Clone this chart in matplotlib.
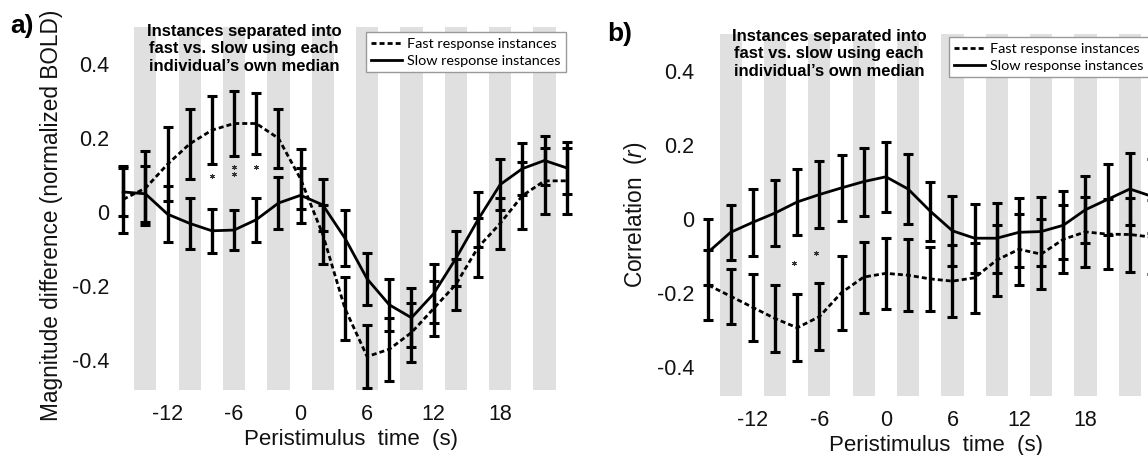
import matplotlib
matplotlib.use('Agg')
import matplotlib.pyplot as plt
from matplotlib.lines import Line2D

plt.rcParams['font.family'] = ['Liberation Sans', 'DejaVu Sans']
plt.rcParams['axes.unicode_minus'] = False
plt.rcParams['mathtext.fontset'] = 'custom'
plt.rcParams['mathtext.it'] = 'Liberation Sans:italic'
plt.rcParams['mathtext.rm'] = 'Liberation Sans'

# ---------------- data ----------------
time_s = [-16, -14, -12, -10, -8, -6, -4, -2, 0, 2, 4, 6, 8, 10, 12, 14, 16, 18, 20, 22, 24]
stim_on = [-15, -11, -7, -3, 1, 5, 9, 13, 17, 21]   # shaded 2-s periods
stim_len = 2
x_ticks = [-12, -6, 0, 6, 12, 18]
y_ticks = [-0.4, -0.2, 0, 0.2, 0.4]
y_ticklabels = ['-0.4', '-0.2', '0', '0.2', '0.4']

# panel a: magnitude difference
a_fast = [0.035, 0.065, 0.13, 0.185, 0.222, 0.24, 0.24, 0.20, 0.09, -0.06, -0.26, -0.39,
          -0.37, -0.325, -0.26, -0.195, -0.095, -0.03, 0.045, 0.085, 0.085]
a_fast_err = [0.09, 0.10, 0.10, 0.095, 0.092, 0.087, 0.083, 0.08, 0.08, 0.08, 0.085, 0.085,
              0.085, 0.08, 0.075, 0.07, 0.08, 0.07, 0.09, 0.09, 0.09]
a_slow = [0.055, 0.05, -0.005, -0.03, -0.05, -0.048, -0.02, 0.025, 0.046, 0.02, -0.07, -0.18,
          -0.25, -0.285, -0.22, -0.125, -0.02, 0.075, 0.118, 0.14, 0.12]
a_slow_err = [0.065, 0.075, 0.075, 0.07, 0.06, 0.055, 0.06, 0.07, 0.075, 0.07, 0.075, 0.07,
              0.07, 0.08, 0.08, 0.075, 0.075, 0.07, 0.07, 0.067, 0.07]
a_star_t = [-8, -6, -6, -4]
a_star_y = [0.098, 0.123, 0.103, 0.122]

# panel b: correlation
b_fast = [-0.18, -0.21, -0.24, -0.27, -0.295, -0.265, -0.20, -0.158, -0.148, -0.153, -0.163,
          -0.169, -0.16, -0.112, -0.083, -0.096, -0.056, -0.036, -0.042, -0.043, -0.05]
b_fast_err = [0.095, 0.075, 0.09, 0.09, 0.09, 0.09, 0.10, 0.096, 0.095, 0.097, 0.087, 0.098,
              0.095, 0.096, 0.096, 0.094, 0.092, 0.094, 0.095, 0.10, 0.10]
b_slow = [-0.09, -0.037, -0.01, 0.015, 0.045, 0.065, 0.083, 0.10, 0.113, 0.08, 0.02, -0.033,
          -0.053, -0.053, -0.037, -0.035, -0.018, 0.024, 0.052, 0.08, 0.06]
b_slow_err = [0.09, 0.075, 0.09, 0.09, 0.09, 0.09, 0.09, 0.092, 0.095, 0.095, 0.08, 0.094,
              0.093, 0.094, 0.093, 0.094, 0.092, 0.09, 0.095, 0.096, 0.10]
b_star_t = [-8.3, -6.3]
b_star_y = [-0.119, -0.094]

annotation = "Instances separated into\nfast vs. slow using each\nindividual\u2019s own median"
leg_labels = ["Fast response instances", "Slow response instances"]

# ---------------- figure ----------------
W, H = 1148, 455
fig = plt.figure(figsize=(W / 100, H / 100), dpi=100)

def fx(px):
    return px / W

def fy(py):
    return 1 - py / H

ax_w = 479 / W
ax_h = 362.6 / H
ax_a = fig.add_axes([fx(111), fy(27.3 + 362.6), ax_w, ax_h])
ax_b = fig.add_axes([fx(696.3), fy(33.6 + 362.6), ax_w, ax_h])

dash = (1.8, 1.1)

def draw(ax, fast, fast_err, slow, slow_err, st_t, st_y, ylabel, ylab_x, ylab_y):
    for s in stim_on:
        ax.axvspan(s, s + stim_len, color='#e0e0e0', lw=0, zorder=0)
    ax.errorbar(time_s, fast, yerr=fast_err, color='black', lw=2, dashes=dash,
                elinewidth=2.4, capsize=3.8, capthick=2.2, zorder=3)
    ax.errorbar(time_s, slow, yerr=slow_err, color='black', lw=2,
                elinewidth=2.4, capsize=3.8, capthick=2.2, zorder=3)
    ax.plot(st_t, st_y, linestyle='none', marker=(6, 2, 0), markersize=3.5,
            markeredgewidth=0.7, color='#333333', zorder=4)
    ax.set_xlim(-17.1, 26.1)
    ax.set_ylim(-0.48, 0.50)
    for sp in ax.spines.values():
        sp.set_visible(False)
    ax.set_xticks(x_ticks)
    ax.set_xticklabels([str(t) for t in x_ticks])
    ax.set_yticks(y_ticks)
    ax.set_yticklabels(y_ticklabels)
    ax.tick_params(axis='x', length=0, pad=10, labelsize=15.5, colors='#111111')
    ax.tick_params(axis='y', length=0, pad=1.5, labelsize=15.5, colors='#111111')
    ax.set_xlabel("Peristimulus  time  (s)", fontsize=16, color='#111111')
    ax.xaxis.set_label_coords(0.5, -0.108)
    ax.set_ylabel(ylabel, fontsize=16.3, color='#111111')
    ax.yaxis.set_label_coords(ylab_x, ylab_y)
    ax.patch.set_visible(False)

draw(ax_a, a_fast, a_fast_err, a_slow, a_slow_err, a_star_t, a_star_y,
     "Magnitude difference (normalized BOLD)", -0.100, 0.482)
draw(ax_b, b_fast, b_fast_err, b_slow, b_slow_err, b_star_t, b_star_y,
     "Correlation  ($\\it{r}$)", -0.098, 0.5)

# annotations
fig.text(fx(244), fy(24), annotation, ha='center', va='top', fontsize=12,
         fontweight='bold', linespacing=1.2)
fig.text(fx(829), fy(29), annotation, ha='center', va='top', fontsize=12,
         fontweight='bold', linespacing=1.2)

fig.text(fx(10), fy(33.5), "a)", ha='left', va='baseline', fontsize=19, fontweight='bold')
fig.text(fx(607), fy(41), "b)", ha='left', va='baseline', fontsize=19, fontweight='bold')

handles = [Line2D([], [], color='black', lw=2, dashes=dash),
           Line2D([], [], color='black', lw=2)]
for (lx, ly) in [(366, 32), (949, 37)]:
    fig.legend(handles, leg_labels, loc='upper left', bbox_to_anchor=(fx(lx), fy(ly)),
               bbox_transform=fig.transFigure, frameon=True, fancybox=False,
               edgecolor='#9a9a9a', framealpha=1, borderaxespad=0, borderpad=0.38,
               labelspacing=0.36, handlelength=2.1, handletextpad=0.38,
               prop={'family': 'Lato', 'size': 10.4})

fig.savefig('out.png', dpi=100)
